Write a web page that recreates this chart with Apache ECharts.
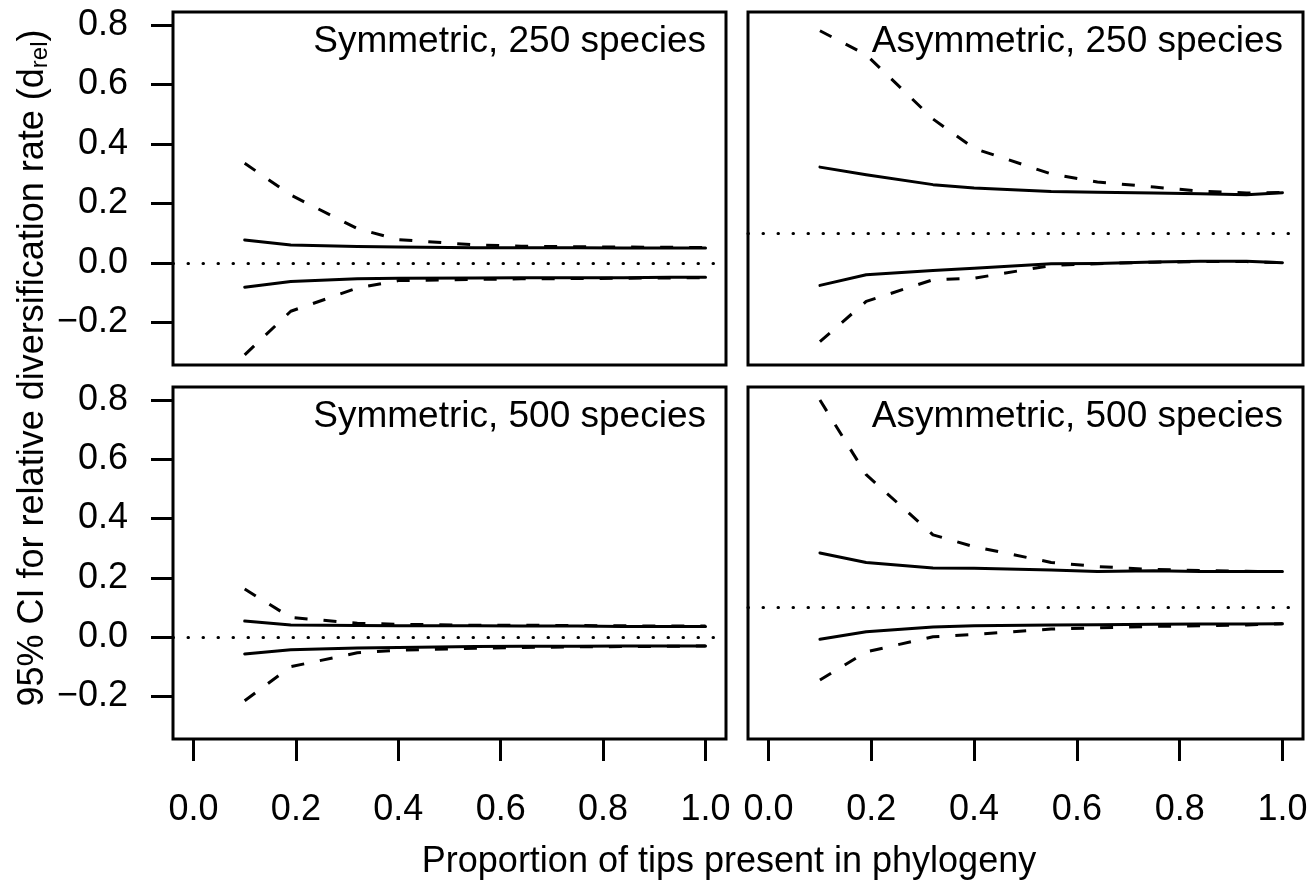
<!DOCTYPE html>
<html>
<head>
<meta charset="utf-8">
<script src="https://cdn.jsdelivr.net/npm/echarts@6/dist/echarts.min.js"></script>
<style>
html,body{margin:0;padding:0;background:#fff;}
#chart{width:1307px;height:881px;}
</style>
</head>
<body>
<div id="chart"></div>
<script>
// ---- data ----
const xVals = [0.1, 0.19, 0.32, 0.4, 0.55, 0.64, 0.75, 0.84, 0.93, 1.0];
const xTicks = [0, 0.2, 0.4, 0.6, 0.8, 1.0];
const yTicks = [-0.2, 0, 0.2, 0.4, 0.6, 0.8];
const panelTitles = ['Symmetric, 250 species', 'Asymmetric, 250 species', 'Symmetric, 500 species', 'Asymmetric, 500 species'];
const refLines = [0, 0.1, 0, 0.1];

const sym250_dashUpper  = [0.335, 0.228, 0.115, 0.078, 0.060, 0.056, 0.054, 0.053, 0.052, 0.051];
const sym250_solidUpper = [0.077, 0.060, 0.055, 0.053, 0.051, 0.051, 0.051, 0.050, 0.050, 0.050];
const sym250_solidLower = [-0.082, -0.063, -0.054, -0.052, -0.051, -0.050, -0.050, -0.050, -0.049, -0.049];
const sym250_dashLower  = [-0.310, -0.163, -0.085, -0.060, -0.056, -0.054, -0.053, -0.052, -0.051, -0.050];

const asym250_dashUpper  = [0.781, 0.700, 0.484, 0.385, 0.299, 0.272, 0.255, 0.241, 0.235, 0.237];
const asym250_solidUpper = [0.322, 0.296, 0.263, 0.252, 0.240, 0.237, 0.235, 0.232, 0.229, 0.236];
const asym250_solidLower = [-0.076, -0.040, -0.026, -0.018, -0.003, -0.002, 0.003, 0.005, 0.005, 0.000];
const asym250_dashLower  = [-0.265, -0.130, -0.057, -0.052, -0.009, -0.003, 0.002, 0.004, 0.004, 0.000];

const sym500_dashUpper  = [0.162, 0.066, 0.047, 0.043, 0.040, 0.040, 0.039, 0.038, 0.037, 0.037];
const sym500_solidUpper = [0.054, 0.041, 0.039, 0.038, 0.038, 0.037, 0.037, 0.036, 0.036, 0.036];
const sym500_solidLower = [-0.057, -0.043, -0.037, -0.035, -0.032, -0.031, -0.031, -0.030, -0.030, -0.030];
const sym500_dashLower  = [-0.215, -0.100, -0.053, -0.044, -0.038, -0.035, -0.033, -0.032, -0.031, -0.030];

const asym500_dashUpper  = [0.800, 0.548, 0.345, 0.305, 0.252, 0.238, 0.228, 0.225, 0.222, 0.221];
const asym500_solidUpper = [0.284, 0.252, 0.233, 0.232, 0.226, 0.221, 0.224, 0.221, 0.221, 0.221];
const asym500_solidLower = [-0.007, 0.018, 0.034, 0.038, 0.041, 0.042, 0.043, 0.044, 0.044, 0.045];
const asym500_dashLower  = [-0.145, -0.050, 0.001, 0.009, 0.027, 0.031, 0.036, 0.038, 0.041, 0.045];

const panelSeries = [
  [sym250_dashUpper, sym250_solidUpper, sym250_solidLower, sym250_dashLower],
  [asym250_dashUpper, asym250_solidUpper, asym250_solidLower, asym250_dashLower],
  [sym500_dashUpper, sym500_solidUpper, sym500_solidLower, sym500_dashLower],
  [asym500_dashUpper, asym500_solidUpper, asym500_solidLower, asym500_dashLower]
];
const seriesKinds = ['dashed', 'solid', 'solid', 'dashed'];

// ---- layout ----
const FONT = '"Liberation Sans", Arial, Helvetica, sans-serif';
const FS = 36;
const TFS = 37;
const grids = [
  {left: 173, top: 12, width: 553, height: 353},
  {left: 748, top: 12, width: 555, height: 353},
  {left: 173, top: 387, width: 553, height: 352},
  {left: 748, top: 387, width: 555, height: 352}
];

const chart = echarts.init(document.getElementById('chart'), null, {renderer: 'canvas'});

const gridOpts = grids.map(g => Object.assign({
  show: true, borderColor: '#000', borderWidth: 3, backgroundColor: 'transparent',
  containLabel: false, outerBoundsMode: 'none'
}, g));

const xAxes = grids.map((g, i) => ({
  type: 'value', gridIndex: i, min: -0.04, max: 1.04, position: 'bottom',
  axisLine: {show: false, onZero: false}, splitLine: {show: false},
  axisTick: {show: i >= 2, length: 22, customValues: xTicks, lineStyle: {color: '#000', width: 3}},
  axisLabel: {show: i >= 2, customValues: xTicks, margin: 53, color: '#000', fontFamily: FONT, fontSize: FS, lineHeight: FS,
    formatter: v => v.toFixed(1)}
}));

const yAxes = grids.map((g, i) => ({
  type: 'value', gridIndex: i, min: -0.344, max: 0.844, position: 'left',
  axisLine: {show: false, onZero: false}, splitLine: {show: false},
  axisTick: {show: i % 2 === 0, length: 22, customValues: yTicks, lineStyle: {color: '#000', width: 3}},
  axisLabel: {show: i % 2 === 0, customValues: yTicks, margin: 45, color: '#000', fontFamily: FONT, fontSize: FS, lineHeight: FS,
    formatter: v => (v < 0 ? '\u2212' : '') + Math.abs(v).toFixed(1)}
}));

const series = [];
panelSeries.forEach((arrs, p) => {
  arrs.forEach((arr, k) => {
    series.push({
      type: 'line', xAxisIndex: p, yAxisIndex: p, symbol: 'none', silent: true, animation: false,
      data: xVals.map((x, j) => [x, arr[j]]),
      lineStyle: seriesKinds[k] === 'dashed'
        ? {color: '#000', width: 3, type: [13, 16], cap: 'butt', join: 'round'}
        : {color: '#000', width: 3, type: 'solid', cap: 'round', join: 'round'},
      markLine: k === 0 ? {
        silent: true, symbol: 'none', animation: false, label: {show: false},
        lineStyle: {color: '#000', width: 3, type: [0.5, 14.5], cap: 'round'},
        data: [{yAxis: refLines[p]}]
      } : undefined
    });
  });
});

const graphics = panelTitles.map((t, i) => ({
  type: 'text',
  x: grids[i].left + grids[i].width - 20,
  y: grids[i].top + 11,
  style: {text: t, fill: '#000', font: TFS + 'px ' + FONT, align: 'right', verticalAlign: 'top', lineHeight: TFS}
}));

graphics.push({
  type: 'text', x: 729, y: 844,
  style: {text: 'Proportion of tips present in phylogeny', fill: '#000', font: FS + 'px ' + FONT, align: 'center', verticalAlign: 'top', lineHeight: FS}
});

graphics.push({
  type: 'text', x: 33, y: 368, rotation: Math.PI / 2,
  style: {
    text: '95% CI for relative diversification rate (d{sub|rel})',
    fill: '#000', fontFamily: FONT, fontSize: FS, align: 'center', verticalAlign: 'middle',
    rich: {sub: {fontFamily: FONT, fontSize: 24, fill: '#000', padding: [14, 0, 0, 0]}}
  }
});

chart.setOption({
  animation: false,
  backgroundColor: '#fff',
  grid: gridOpts,
  xAxis: xAxes,
  yAxis: yAxes,
  series: series,
  graphic: graphics
});
</script>
</body>
</html>
